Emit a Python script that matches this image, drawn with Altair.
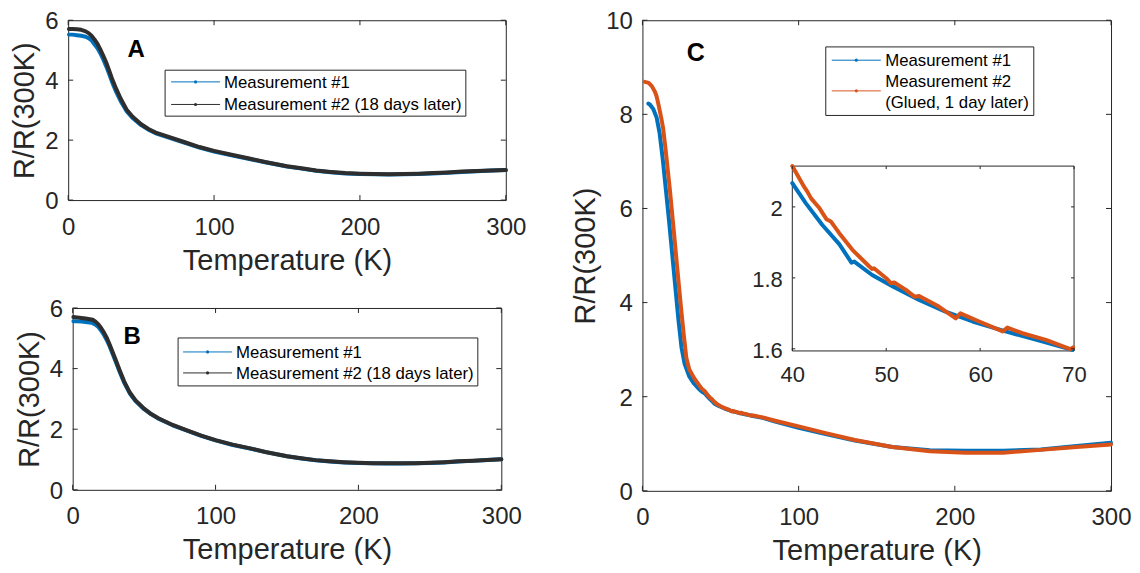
import altair as alt
import pandas as pd

# ---------------- data ----------------
A_T = [0.5, 3, 6, 9, 12, 14, 16, 18, 20, 22, 24, 26, 28, 30, 33, 36, 40, 44, 50, 55,
       60, 70, 80, 90, 100, 112, 125, 135, 150, 160, 170, 180, 190, 200, 210, 220, 230,
       240, 250, 260, 270, 280, 290, 300]
A_M1 = [5.52, 5.52, 5.50, 5.48, 5.45, 5.40, 5.33, 5.20, 5.07, 4.90, 4.70, 4.47, 4.22, 3.95,
        3.60, 3.30, 2.97, 2.75, 2.50, 2.35, 2.23, 2.07, 1.91, 1.75, 1.62, 1.49, 1.36, 1.26,
        1.12, 1.05, 0.98, 0.93, 0.89, 0.87, 0.86, 0.855, 0.86, 0.87, 0.89, 0.91, 0.94,
        0.965, 0.985, 1.00]
A_M2 = [5.71, 5.71, 5.70, 5.68, 5.63, 5.57, 5.48, 5.36, 5.22, 5.03, 4.82, 4.60, 4.33, 4.06,
        3.70, 3.38, 3.02, 2.79, 2.53, 2.37, 2.25, 2.09, 1.93, 1.77, 1.64, 1.51, 1.38, 1.27,
        1.13, 1.06, 0.99, 0.94, 0.90, 0.88, 0.87, 0.865, 0.87, 0.88, 0.90, 0.92, 0.95,
        0.97, 0.985, 1.00]

B_T = A_T
B_M1 = [5.56, 5.56, 5.55, 5.54, 5.52, 5.50, 5.45, 5.37, 5.25, 5.10, 4.93, 4.72, 4.48, 4.24,
        3.88, 3.54, 3.18, 2.93, 2.66, 2.49, 2.35, 2.13, 1.95, 1.78, 1.63, 1.48, 1.355, 1.245,
        1.105, 1.035, 0.975, 0.935, 0.905, 0.885, 0.875, 0.87, 0.87, 0.875, 0.885, 0.905,
        0.935, 0.955, 0.98, 1.005]
B_M2 = [5.70, 5.69, 5.67, 5.65, 5.63, 5.61, 5.55, 5.46, 5.33, 5.18, 5.00, 4.78, 4.54, 4.30,
        3.93, 3.58, 3.21, 2.95, 2.68, 2.50, 2.36, 2.14, 1.96, 1.79, 1.64, 1.49, 1.36, 1.25,
        1.11, 1.04, 0.98, 0.94, 0.91, 0.89, 0.88, 0.875, 0.875, 0.88, 0.89, 0.91, 0.94,
        0.96, 0.985, 1.01]

C_T1 = [3.8, 5, 7, 9.1, 11, 13, 15, 17, 19, 21, 23, 25, 27, 30, 33, 36, 38, 40, 41.45, 43.2,
        45.0, 46.3, 46.6, 48.5, 50.7, 53.5, 56.3, 59.2, 62.7, 66.3, 69.8, 77, 85, 100, 118,
        136, 160, 184, 207, 231, 255, 278, 300]
C_M1 = [8.23, 8.20, 8.11, 7.93, 7.60, 7.05, 6.40, 5.75, 5.05, 4.35, 3.65, 3.05, 2.70, 2.43,
        2.28, 2.17, 2.11, 2.067, 2.010, 1.949, 1.895, 1.843, 1.846, 1.808, 1.776, 1.738,
        1.705, 1.677, 1.649, 1.623, 1.597, 1.55, 1.47, 1.34, 1.20, 1.07, 0.93, 0.86, 0.85,
        0.85, 0.88, 0.95, 1.02]
C_T2 = [1.5, 4, 6, 8, 9, 10, 11.3, 12.3, 13.3, 15, 17.5, 20, 22.3, 24.7, 26.5, 28.1, 30, 33,
        36.4, 38, 40, 41.25, 41.6, 42.0, 42.9, 43.65, 44.1, 45.0, 46.4, 48.2, 48.5, 48.7,
        50.0, 50.5, 50.85, 52.1, 53.0, 53.5, 55.6, 57.4, 57.9, 59.9, 62.4, 62.9, 64.5, 67.0,
        69.6, 69.9, 77, 85, 100, 118, 136, 160, 184, 207, 231, 255, 278, 300]
C_M2 = [8.69, 8.67, 8.60, 8.48, 8.39, 8.25, 8.04, 7.88, 7.69, 7.20, 6.42, 5.55, 4.73, 3.89,
        3.30, 2.83, 2.58, 2.40, 2.24, 2.17, 2.115, 2.057, 2.043, 2.024, 1.996, 1.965, 1.959,
        1.926, 1.879, 1.832, 1.825, 1.827, 1.799, 1.785, 1.787, 1.766, 1.747, 1.749, 1.719,
        1.686, 1.700, 1.677, 1.649, 1.660, 1.644, 1.625, 1.599, 1.604, 1.56, 1.49, 1.37,
        1.22, 1.08, 0.93, 0.84, 0.81, 0.81, 0.87, 0.93, 0.985]

X_TICKS = [0, 100, 200, 300]
AB_Y_TICKS = [0, 2, 4, 6]
C_Y_TICKS = [0, 2, 4, 6, 8, 10]
INSET_X_TICKS = [40, 50, 60, 70]
INSET_Y_TICKS = [1.6, 1.8, 2.0]
INSET_X_DOMAIN = [40, 70]
INSET_Y_DOMAIN = [1.594, 2.115]

AB_LABELS = ["Measurement #1", "Measurement #2 (18 days later)"]
C_LABELS = ["Measurement #1", "Measurement #2\n(Glued, 1 day later)"]
AB_COLORS = ["#0072BD", "#2E2E2E"]
C_COLORS = ["#0072BD", "#D95319"]

# ---------------- style / layout ----------------
FONT = "Liberation Sans"
INK = "#262626"
LINE_W = 4
TICK = 5
LEG_FS = 16.8

AW, AH = 438, 180
BW, BH = 429, 182
CW, CH = 469, 471
IX0, IX1, IY0, IY1 = 150, 432, 146, 331   # inset box inside panel C (pixels)

ONE = pd.DataFrame({"k": [0]})


def legend_layers(box, entries, line_x, text_x, fs=LEG_FS):
    x0, y0, x1, y1 = box
    out = [alt.Chart(ONE).mark_rect(fill="white", stroke=INK, strokeWidth=1).encode(
        x=alt.value(x0), x2=alt.value(x1), y=alt.value(y0), y2=alt.value(y1))]
    for color, sy, lines in entries:
        out.append(alt.Chart(ONE).mark_rule(color=color, strokeWidth=1).encode(
            x=alt.value(line_x[0]), x2=alt.value(line_x[1]), y=alt.value(sy)))
        out.append(alt.Chart(ONE).mark_point(filled=True, color=color, size=10, opacity=1).encode(
            x=alt.value((line_x[0] + line_x[1]) / 2), y=alt.value(sy)))
        for text, ty in lines:
            out.append(alt.Chart(ONE).mark_text(
                text=text, align="left", baseline="middle", font=FONT, fontSize=fs,
                color="black").encode(x=alt.value(text_x), y=alt.value(ty + 1)))
    return out


def main_layers(W, H, ydom, yticks, series, colors, letter, lpos, lsize, legend):
    X = alt.X("T:Q", scale=alt.Scale(domain=[0, 300], nice=False, zero=False),
              axis=alt.Axis(values=X_TICKS, title="Temperature (K)"))
    Y = alt.Y("v:Q", scale=alt.Scale(domain=ydom, nice=False, zero=False),
              axis=alt.Axis(values=yticks, title="R/R(300K)"))
    layers = []
    for (T, V), col in zip(series, colors):
        df = pd.DataFrame({"T": T, "v": V})
        layers.append(alt.Chart(df).mark_line(
            color=col, strokeWidth=LINE_W, strokeCap="round", strokeJoin="round").encode(x=X, y=Y))
    xt = pd.DataFrame({"T": X_TICKS})
    yt = pd.DataFrame({"v": yticks})
    rule = dict(color=INK, strokeWidth=1)
    layers += [
        alt.Chart(xt).mark_rule(**rule).encode(x=X, y=alt.value(H), y2=alt.value(H - TICK)),
        alt.Chart(xt).mark_rule(**rule).encode(x=X, y=alt.value(0), y2=alt.value(TICK)),
        alt.Chart(yt).mark_rule(**rule).encode(y=Y, x=alt.value(0), x2=alt.value(TICK)),
        alt.Chart(yt).mark_rule(**rule).encode(y=Y, x=alt.value(W), x2=alt.value(W - TICK)),
    ]
    layers += legend
    layers.append(alt.Chart(ONE).mark_text(
        text=letter, font=FONT, fontSize=lsize, fontWeight="bold", color="black",
        align="center", baseline="middle").encode(x=alt.value(lpos[0]), y=alt.value(lpos[1])))
    return layers


# ---- panel A ----
legA = legend_layers((97, 50, 398, 96),
                     [(AB_COLORS[0], 61.7, [(AB_LABELS[0], 61.7)]),
                      (AB_COLORS[1], 84.3, [(AB_LABELS[1], 84.3)])],
                     (103, 152), 156)
panelA = alt.layer(*main_layers(AW, AH, [0, 6], AB_Y_TICKS, [(A_T, A_M1), (A_T, A_M2)],
                                AB_COLORS, "A", (68, 29.4), 24, legA)).properties(width=AW, height=AH)

# ---- panel B ----
legB = legend_layers((105.5, 30, 405.5, 78),
                     [(AB_COLORS[0], 44, [(AB_LABELS[0], 44)]),
                      (AB_COLORS[1], 65, [(AB_LABELS[1], 65)])],
                     (110.5, 159.5), 163.5)
panelB = alt.layer(*main_layers(BW, BH, [0, 6], AB_Y_TICKS, [(B_T, B_M1), (B_T, B_M2)],
                                AB_COLORS, "B", (59.5, 29.5), 24, legB)).properties(width=BW, height=BH)

# ---- panel C ----
c2_lines = C_LABELS[1].split("\n")
legC = legend_layers((183.5, 26.7, 391.7, 95.3),
                     [(C_COLORS[0], 40, [(C_LABELS[0], 40)]),
                      (C_COLORS[1], 70.7, [(c2_lines[0], 61), (c2_lines[1], 82)])],
                     (189.5, 238.6), 243)
mainC = alt.layer(*main_layers(CW, CH, [0, 10], C_Y_TICKS, [(C_T1, C_M1), (C_T2, C_M2)],
                               C_COLORS, "C", (53.5, 32.7), 25, legC))

XI = alt.X("T:Q", scale=alt.Scale(domain=INSET_X_DOMAIN, range=[IX0, IX1], nice=False, zero=False),
           axis=alt.Axis(values=INSET_X_TICKS, orient="bottom", offset=-(CH - IY1), title=None,
                         labelFontSize=22, labelPadding=14))
YI = alt.Y("v:Q", scale=alt.Scale(domain=INSET_Y_DOMAIN, range=[IY1, IY0], nice=False, zero=False),
           axis=alt.Axis(values=INSET_Y_TICKS, orient="left", offset=-IX0, title=None,
                         labelFontSize=22, labelPadding=10, format=".1~f"))
inset_box = pd.DataFrame({"T": [INSET_X_DOMAIN[0]], "T2": [INSET_X_DOMAIN[1]],
                          "v": [INSET_Y_DOMAIN[0]], "v2": [INSET_Y_DOMAIN[1]]})
inset_layers = [alt.Chart(inset_box).mark_rect(fill="white", stroke=INK, strokeWidth=1).encode(
    x=XI, x2="T2:Q", y=YI, y2="v2:Q")]
for T, V, col in [(C_T1, C_M1, C_COLORS[0]), (C_T2, C_M2, C_COLORS[1])]:
    df = pd.DataFrame({"T": T, "v": V})
    df = df[(df["T"] >= INSET_X_DOMAIN[0]) & (df["T"] <= INSET_X_DOMAIN[1])]
    inset_layers.append(alt.Chart(df).mark_line(
        color=col, strokeWidth=LINE_W, strokeCap="round", strokeJoin="round").encode(x=XI, y=YI))
ixt = pd.DataFrame({"T": INSET_X_TICKS})
iyt = pd.DataFrame({"v": INSET_Y_TICKS})
IT = 3
inset_layers += [
    alt.Chart(ixt).mark_rule(color=INK, strokeWidth=1).encode(x=XI, y=alt.value(IY1), y2=alt.value(IY1 - IT)),
    alt.Chart(ixt).mark_rule(color=INK, strokeWidth=1).encode(x=XI, y=alt.value(IY0), y2=alt.value(IY0 + IT)),
    alt.Chart(iyt).mark_rule(color=INK, strokeWidth=1).encode(y=YI, x=alt.value(IX0), x2=alt.value(IX0 + IT)),
    alt.Chart(iyt).mark_rule(color=INK, strokeWidth=1).encode(y=YI, x=alt.value(IX1), x2=alt.value(IX1 - IT)),
]
insetC = alt.layer(*inset_layers)

panelC = alt.layer(mainC, insetC).resolve_scale(
    x="independent", y="independent").properties(width=CW, height=CH)

left = alt.vconcat(panelA, panelB, spacing=20, center=True)

chart = alt.hconcat(left, panelC, spacing=44).properties(
    padding={"left": 2, "top": 0, "right": 0, "bottom": -1}
).configure_view(
    stroke=INK, strokeWidth=1
).configure_axis(
    domain=False, ticks=False, tickSize=0, grid=False,
    labelFont=FONT, labelFontSize=24, labelColor=INK, labelPadding=10,
    labelFlush=False, labelOverlap=False,
    titleFont=FONT, titleFontSize=29, titleFontWeight="normal", titleColor=INK,
    titlePadding=5,
).configure_axisX(labelPadding=15, titlePadding=7
).configure_axisY(labelOffset=1.4)

chart.save("out.html", embed_options={"renderer": "svg", "actions": False})
